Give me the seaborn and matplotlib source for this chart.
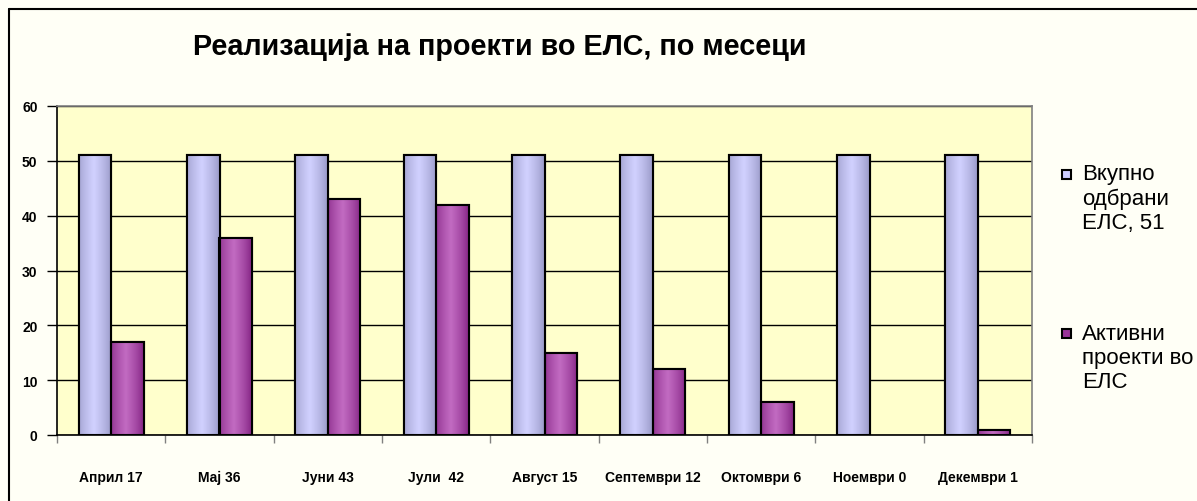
import numpy as np
import pandas as pd
import matplotlib
matplotlib.use("Agg")
import matplotlib.pyplot as plt
import seaborn as sns
from matplotlib.lines import Line2D
from matplotlib.patches import Rectangle

months = ["Април 17", "Мај 36", "Јуни 43", "Јули  42", "Август 15",
          "Септември 12", "Октомври 6", "Ноември 0", "Декември 1"]
total_selected = [51, 51, 51, 51, 51, 51, 51, 51, 51]
active_projects = [17, 36, 43, 42, 15, 12, 6, 0, 1]
series_names = ["Вкупно\nодбрани\nЕЛС, 51", "Активни\nпроекти во\nЕЛС"]
title = "Реализација на проекти во ЕЛС, по месеци"
y_ticks = [0, 10, 20, 30, 40, 50, 60]

df = pd.DataFrame({
    "month": months * 2,
    "series": [series_names[0]] * len(months) + [series_names[1]] * len(months),
    "value": total_selected + active_projects,
})

sns.set_theme(style="white")
plt.rcParams["font.family"] = ["Liberation Sans", "DejaVu Sans"]
plt.rcParams["text.color"] = "black"
plt.rcParams["xtick.color"] = "black"
plt.rcParams["ytick.color"] = "black"

W, H = 1197, 502
fig = plt.figure(figsize=(W / 100, H / 100), dpi=100, facecolor="#FFFFF6")
ax = fig.add_axes([57 / W, 1 - 436 / H, (1032 - 57) / W, (436 - 107) / H])
ax.set_facecolor("#FFFFCC")

colors = ["#CCCCFF", "#993399"]
sns.barplot(data=df, x="month", y="value", hue="series", order=months,
            hue_order=series_names, palette=colors, width=0.6, gap=0,
            edgecolor="black", linewidth=1.5, saturation=1, ax=ax, legend=False)

# gradient shading on bars
grads = {
    "#ccccff": ((0.58, 0.58, 0.76), (0.82, 0.82, 1.0)),
    "#993399": ((0.50, 0.12, 0.50), (0.76, 0.42, 0.76)),
}
xs = np.linspace(0, 1, 64)
prof = 1 - np.abs(xs - 0.45) / 0.55
prof = np.clip(prof, 0, 1) ** 0.7
for p in list(ax.patches):
    h = p.get_height()
    if h <= 0:
        p.set_linewidth(0)
        continue
    fc = matplotlib.colors.to_hex(p.get_facecolor()).lower()
    if fc not in grads:
        continue
    e, c = grads[fc]
    e = np.array(e); c = np.array(c)
    img = e[None, :] + (c - e)[None, :] * prof[:, None]
    img = img[None, :, :]
    x0 = p.get_x(); w = p.get_width(); y0 = p.get_y()
    im = ax.imshow(img, extent=[x0, x0 + w, y0, y0 + h], aspect="auto",
                   zorder=p.get_zorder() + 0.1, interpolation="bilinear")
    im.set_clip_path(p)
    edge = Rectangle((x0, y0), w, h, fill=False, edgecolor="black",
                     linewidth=1.5, zorder=p.get_zorder() + 0.2)
    ax.add_patch(edge)

ax.set_xlim(-0.5, len(months) - 0.5)
ax.set_ylim(0, 60)
ax.set_yticks(y_ticks)
ax.set_axisbelow(True)
ax.yaxis.grid(True, color="black", linewidth=1)
ax.xaxis.grid(False)
ax.set_xlabel("")
ax.set_ylabel("")

for side in ["top", "right"]:
    ax.spines[side].set_color("#808080")
    ax.spines[side].set_linewidth(1.2)
for side in ["left", "bottom"]:
    ax.spines[side].set_color("black")
    ax.spines[side].set_linewidth(1.2)

ax.tick_params(axis="y", direction="out", length=7, width=1, color="black",
               pad=7, labelsize=10, left=True)
for lab in ax.get_yticklabels():
    lab.set_fontweight("bold")
ax.set_xticks(range(len(months)))
ax.set_xticklabels(months, fontsize=10, fontweight="bold")
ax.tick_params(axis="x", which="major", length=0, pad=25)
ax.set_xticks(np.arange(-0.5, len(months), 1), minor=True)
ax.tick_params(axis="x", which="minor", direction="out", length=6, width=1,
               color="#808080", bottom=True)

fig.text(500 / W, 1 - 47 / H, title, ha="center", va="center",
         fontsize=20.7, fontweight="bold")

# legend (drawn at fixed place in the figure, to the right of the plot)
marker_tops = [171, 330]
text_tops = [164, 324]
for name, col, mt, tt in zip(series_names, colors, marker_tops, text_tops):
    fig.add_artist(Rectangle((1062 / W, 1 - (mt + 9) / H), 9 / W, 9 / H,
                             transform=fig.transFigure, facecolor=col,
                             edgecolor="black", linewidth=1.5))
    fig.text(1082 / W, 1 - tt / H, name, ha="left", va="top",
             fontsize=16, linespacing=1.2)

# outer chart border (left and top)
fig.add_artist(Line2D([9 / W, 9 / W], [0, 1 - 10 / H], transform=fig.transFigure,
                      color="black", linewidth=1.5))
fig.add_artist(Line2D([9 / W, 1], [1 - 10 / H, 1 - 10 / H], transform=fig.transFigure,
                      color="black", linewidth=1.5))

fig.savefig("out.png", dpi=100, facecolor=fig.get_facecolor())
